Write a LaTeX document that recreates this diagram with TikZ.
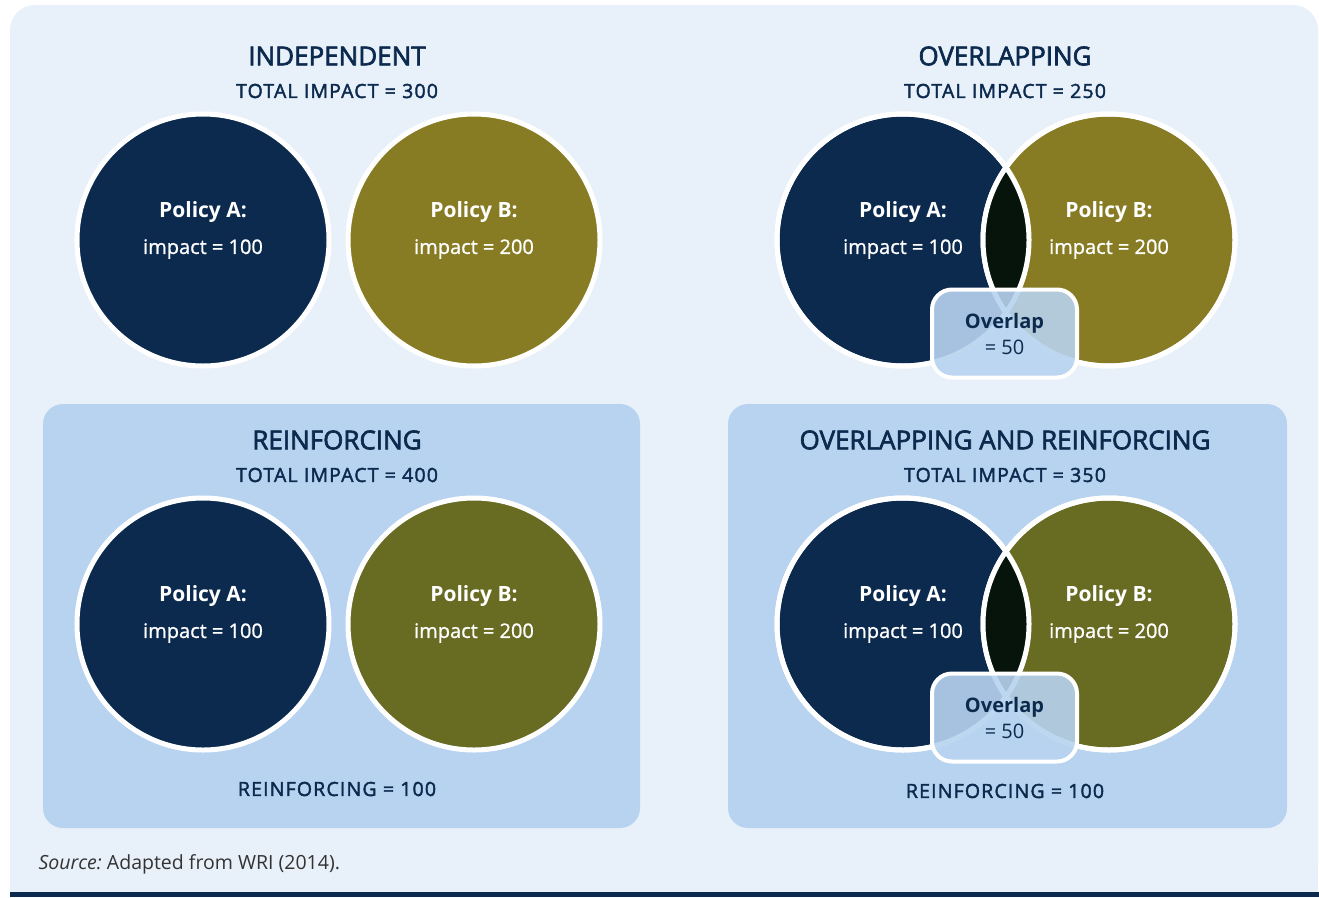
\documentclass[tikz,border=0pt]{standalone}
\usepackage{fontspec}
\setmainfont{Open Sans}
\definecolor{navy}{HTML}{0B2A4E}
\definecolor{oliveA}{HTML}{877C23}
\definecolor{oliveB}{HTML}{686B22}
\definecolor{lensc}{HTML}{06140C}
\definecolor{bgc}{HTML}{E8F0FA}
\definecolor{panel}{HTML}{B8D3F0}
\definecolor{srcgray}{HTML}{333333}
\begin{document}
\begin{tikzpicture}[x=1pt,y=-1pt,
  every node/.style={text=navy},
  pol/.style={circle,minimum size=252pt,inner sep=0pt,draw=white,line width=5pt},
  rim/.style={draw=white,line width=5pt},
  ttl/.style={font=\fontsize{26}{30}\selectfont\addfontfeatures{FakeBold=2.5}},
  sub/.style={font=\fontsize{19.5}{22}\selectfont\addfontfeatures{LetterSpace=6,FakeBold=2}},
  pname/.style={text=white,font=\fontsize{21}{24}\selectfont\bfseries},
  pval/.style={text=white,font=\fontsize{20}{24}\selectfont\addfontfeatures{FakeBold=1}},
  ovl/.style={rounded corners=20pt,minimum width=145pt,minimum height=88pt,fill=panel,
    fill opacity=0.9,text opacity=1,draw=white,line width=4pt,align=center,
    font=\fontsize{20}{26}\selectfont}]

\useasboundingbox (0,0) rectangle (1319,897);

% background
\fill[bgc,rounded corners=25pt] (10,5) rectangle (1318,892);
\fill[bgc] (10,850) rectangle (1318,892);
\fill[navy] (10,892) rectangle (1319,897);

\fill[panel,rounded corners=20pt] (43,404) rectangle (640,828);
\fill[panel,rounded corners=20pt] (728,404) rectangle (1287,828);

% independent
\node[ttl] (t1) at (337,56) {INDEPENDENT};
\node[sub] (s1) at (337,91) {TOTAL IMPACT = 300};
\node[pol,fill=navy] (indA) at (203,240) {};
\node[pol,fill=oliveA] (indB) at (474,240) {};

% overlapping
\node[ttl] (t2) at (1005,56) {OVERLAPPING};
\node[sub] (s2) at (1005,91) {TOTAL IMPACT = 250};
\node[pol,fill=navy] (ovA) at (903,240) {};
\node[pol,fill=oliveA] (ovB) at (1109,240) {};
\begin{scope}
  \clip (ovA.center) circle (126pt);
  \fill[lensc] (ovB.center) circle (126pt);
\end{scope}
\draw[rim] (ovA.center) circle (126pt) (ovB.center) circle (126pt);

% reinforcing
\node[ttl] (t3) at (337,440) {REINFORCING};
\node[sub] (s3) at (337,475) {TOTAL IMPACT = 400};
\node[pol,fill=navy] (reA) at (203,624) {};
\node[pol,fill=oliveB] (reB) at (474,624) {};
\node[sub] (r3) at (337,789) {REINFORCING = 100};

% overlapping and reinforcing
\node[ttl] (t4) at (1005,440) {OVERLAPPING AND REINFORCING};
\node[sub] (s4) at (1005,475) {TOTAL IMPACT = 350};
\node[pol,fill=navy] (orA) at (903,624) {};
\node[pol,fill=oliveB] (orB) at (1109,624) {};
\begin{scope}
  \clip (orA.center) circle (126pt);
  \fill[lensc] (orB.center) circle (126pt);
\end{scope}
\draw[rim] (orA.center) circle (126pt) (orB.center) circle (126pt);
\node[sub] (r4) at (1005,791) {REINFORCING = 100};

% labels in circles
\foreach \x/\y/\p/\v in {203/240/A/100, 474/240/B/200, 903/240/A/100, 1109/240/B/200,
                          203/624/A/100, 474/624/B/200, 903/624/A/100, 1109/624/B/200} {
  \node[pname] at (\x,\y-28) {Policy \p:};
  \node[pval] at (\x,\y+9) {impact = \v};
}

\node[ovl] (ov1) at (1004.5,333.5) {\textbf{Overlap}\\= 50};
\node[ovl] (ov2) at (1004.5,717.5) {\textbf{Overlap}\\= 50};

\node[anchor=base west,text=srcgray,font=\fontsize{19.5}{22}\selectfont] (src) at (35,869)
  {\textit{Source:}\hspace{-1.5pt} Adapted from WRI (2014).};

\end{tikzpicture}
\end{document}
